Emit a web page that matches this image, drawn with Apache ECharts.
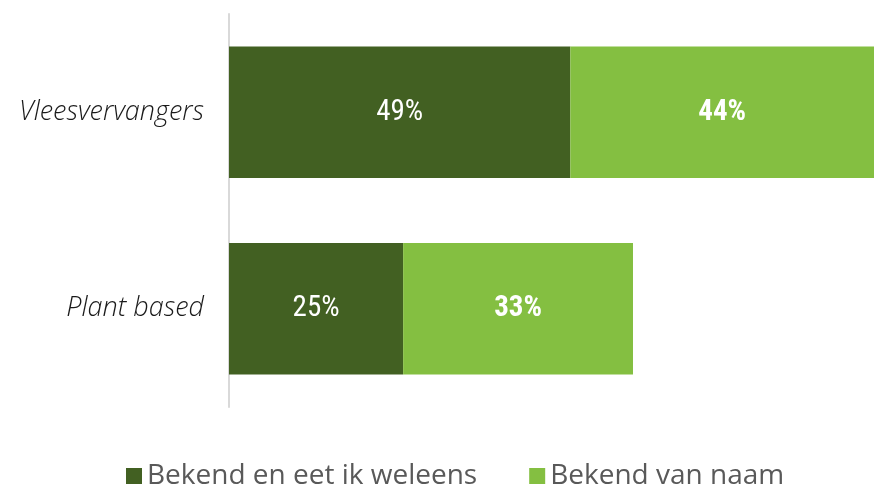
<!DOCTYPE html>
<html><head><meta charset="utf-8">
<script src="https://cdn.jsdelivr.net/npm/echarts@6/dist/echarts.min.js"></script>
<style>html,body{margin:0;padding:0;background:#fff}#c{width:874px;height:485px}</style>
</head><body><div id="c"></div>
<script>
const categories = ['Vleesvervangers', 'Plant based'];
const seriesNames = ['Bekend en eet ik weleens', 'Bekend van naam'];
const eetIkWeleens = [49, 25];
const vanNaam = [44, 33];
const colors = ['#426022', '#84bf41'];

const chart = echarts.init(document.getElementById('c'), null, {renderer: 'canvas'});
const labelBase = {show: true, position: 'inside', color: '#fff', fontSize: 29,
  fontFamily: '"Roboto Condensed", Roboto', formatter: p => p.value + '%'};
chart.setOption({
  animation: false,
  grid: {left: 229, right: 0, top: 14, bottom: 78, containLabel: false},
  xAxis: {type: 'value', min: 0, max: 92.6, show: false},
  yAxis: {type: 'category', data: categories, inverse: true,
    axisLine: {show: true, lineStyle: {color: '#d9d9d9', width: 2}},
    axisTick: {show: false},
    axisLabel: {fontSize: 27, fontStyle: 'italic', fontWeight: 300, color: '#1a1a1a', margin: 25, fontFamily: 'Open Sans'}},
  legend: {left: 121, top: 457, itemWidth: 16, itemHeight: 16, itemGap: 52,
    icon: 'rect',
    textStyle: {fontSize: 28, color: '#595959', fontFamily: 'Open Sans'},
    data: seriesNames},
  series: [
    {name: seriesNames[0], type: 'bar', stack: 's', data: eetIkWeleens, barCategoryGap: '33%',
     itemStyle: {color: colors[0]}, label: Object.assign({}, labelBase)},
    {name: seriesNames[1], type: 'bar', stack: 's', data: vanNaam,
     itemStyle: {color: colors[1]}, label: Object.assign({}, labelBase, {fontWeight: 'bold'})}
  ]
});
</script></body></html>
